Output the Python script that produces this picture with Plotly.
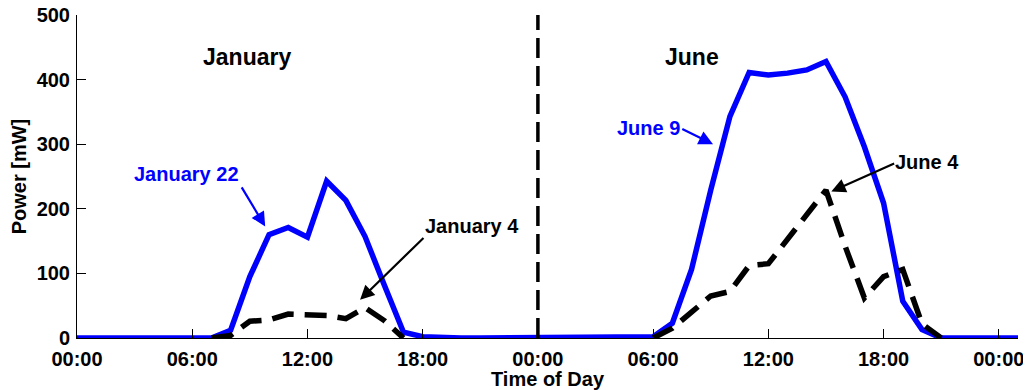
import plotly.graph_objects as go

# Hours of the two-day span (day 1 = January, day 2 = June)
hours = list(range(0, 50))

# Blue solid: January 22 (hours 0-24) followed by June 9 (hours 25-49)
sunny_power = [0, 0, 0, 0, 0, 0, 0, 0, 12, 95, 160, 171, 156, 243, 213, 157, 82, 9, 2, 0, 0, 0, 0, 0, 0,
               0, 0, 0, 0, 0, 2, 23, 106, 229, 343, 411, 407, 410, 415, 428, 373, 296, 209, 57, 13, 0, 0, 0, 0, 0]

# Black dashed: January 4 and June 4 (None where not drawn)
cloudy_power = [None] * 7 + [0, 4, 26, 28, 37, 36, 35, 30, 47, 27, 0] + [None] * 12 + \
               [0, 15, 40, 65, 72, 112, 115, 153, 190, 229, 142, 62, 95, 106, 22, 0] + [None] * 4

tick_vals = [0, 6, 12, 18, 24, 30, 36, 42, 48]
tick_text = ["00:00", "06:00", "12:00", "18:00", "00:00", "06:00", "12:00", "18:00", "00:00"]
y_ticks = [0, 100, 200, 300, 400, 500]

FONT = "Liberation Sans, Arial, Helvetica, sans-serif"

fig = go.Figure()
fig.add_trace(go.Scatter(x=hours, y=sunny_power, mode="lines",
                         line=dict(color="#0000ff", width=5.5), showlegend=False))
fig.add_trace(go.Scatter(x=hours, y=cloudy_power, mode="lines",
                         line=dict(color="black", width=5.5, dash="22px,11px"),
                         showlegend=False, connectgaps=False))

# Day separator
fig.add_shape(type="line", x0=24, x1=24, y0=0, y1=500, xref="x", yref="y",
              line=dict(color="black", width=3.5, dash="20px,8px"))

annotations = [
    dict(x=8.86, y=435, text="<b>January</b>", font=dict(size=23, color="black")),
    dict(x=32.01, y=435, text="<b>June</b>", font=dict(size=23, color="black")),
    dict(x=5.72, y=254, text="<b>January 22</b>", font=dict(size=20, color="#0000ff")),
    dict(x=20.55, y=174, text="<b>January 4</b>", font=dict(size=20, color="black")),
    dict(x=29.76, y=325, text="<b>June 9</b>", font=dict(size=20, color="#0000ff")),
    dict(x=44.27, y=272, text="<b>June 4</b>", font=dict(size=20, color="black")),
]
for a in annotations:
    a.update(xref="x", yref="y", showarrow=False, xanchor="center", yanchor="middle")

arrows = [
    (9.80, 172.6, 8.53, 235.5, "#0000ff"),
    (14.74, 59.2, 18.12, 157.1, "black"),
    (33.12, 300.0, 31.44, 324.8, "#0000ff"),
    (39.28, 226.7, 42.63, 271.1, "black"),
]
for x, y, ax, ay, c in arrows:
    annotations.append(dict(x=x, y=y, ax=ax, ay=ay, xref="x", yref="y", axref="x", ayref="y",
                            text="", showarrow=True, arrowhead=2, arrowsize=1.3,
                            arrowwidth=2.2, arrowcolor=c))

# The page body has an 8px margin, so the figure is sized to fit the window
fig.update_layout(
    width=1023, height=382,
    margin=dict(l=69, r=13, t=7, b=52, autoexpand=False),
    paper_bgcolor="white", plot_bgcolor="white",
    font=dict(family=FONT, size=20, color="black"),
    annotations=annotations,
    showlegend=False,
)
fig.update_xaxes(range=[0, 49], tickvals=tick_vals, ticktext=tick_text, automargin=False,
                 showgrid=False, zeroline=False, showline=True, linecolor="black", linewidth=1,
                 ticks="inside", ticklen=9, tickwidth=1, tickcolor="black",
                 tickfont=dict(family=FONT, size=20, color="black", weight="bold"),
                 ticklabelstandoff=3, ticklabeloverflow="allow",
                 title=dict(text="<b>Time of Day</b>", font=dict(size=20), standoff=6))
fig.update_yaxes(range=[0, 500], tickvals=y_ticks, automargin=False,
                 showgrid=False, zeroline=False, showline=True, linecolor="black", linewidth=1,
                 ticks="inside", ticklen=9, tickwidth=1, tickcolor="black",
                 tickfont=dict(family=FONT, size=20, color="black", weight="bold"),
                 ticklabelstandoff=2, ticklabeloverflow="allow",
                 title=dict(text="<b>Power [mW]</b>", font=dict(size=20), standoff=4))

fig.write_html("out.html")
